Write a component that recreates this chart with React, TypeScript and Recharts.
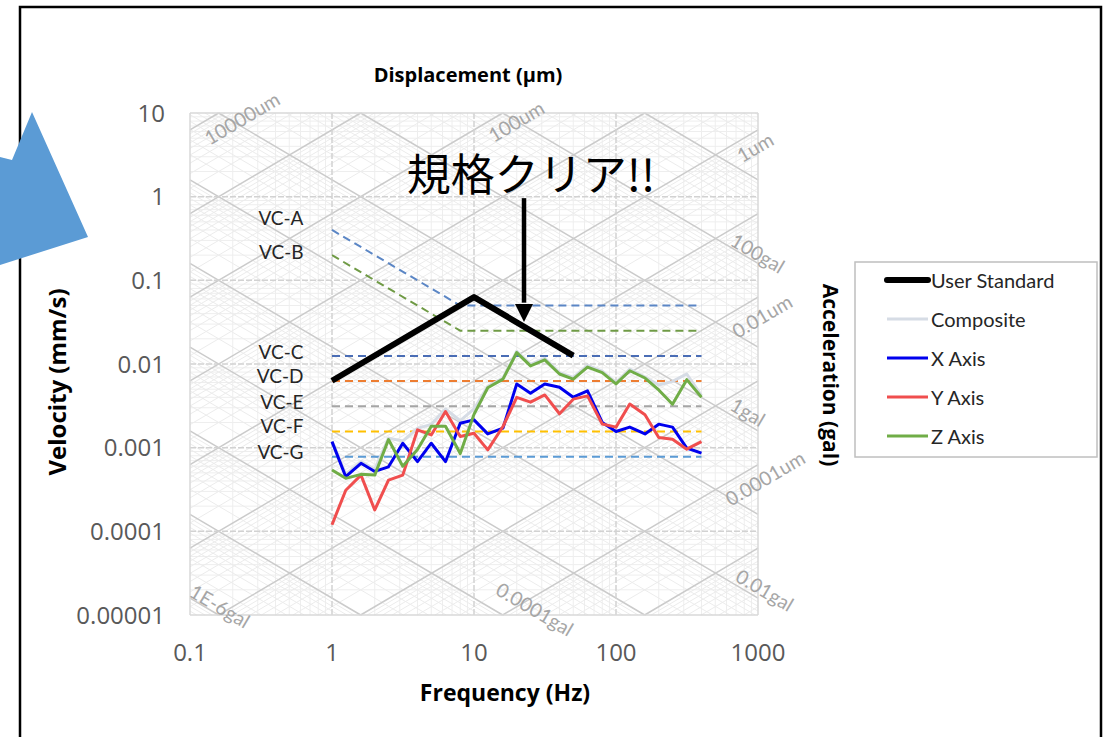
import { LineChart, Line, XAxis, YAxis, ReferenceLine, ReferenceDot } from 'recharts';

// 1/3 octave band centre frequencies (Hz)
const bandFreqs = [1, 1.25, 1.6, 2, 2.5, 3.15, 4, 5, 6.3, 8, 10, 12.5, 16, 20, 25, 31.5, 40, 50, 63, 80, 100, 125, 160, 200, 250, 315, 400];

// velocity per band, mm/s
const xAxisVel = [0.00118, 0.00045, 0.00065, 0.00052, 0.00059, 0.00113, 0.00068, 0.00113, 0.00068, 0.00196, 0.00215, 0.00146, 0.00171, 0.00578, 0.00448, 0.00578, 0.00528, 0.00401, 0.00478, 0.002, 0.00156, 0.00176, 0.00146, 0.00191, 0.00176, 0.00099, 0.00086];
const yAxisVel = [0.00012, 0.00031, 0.00047, 0.00018, 0.00041, 0.00047, 0.00163, 0.00142, 0.0027, 0.00136, 0.00149, 0.00094, 0.00179, 0.004, 0.0035, 0.00427, 0.00254, 0.0038, 0.00416, 0.00192, 0.00176, 0.00333, 0.00247, 0.00132, 0.00126, 0.00096, 0.00118];
const zAxisVel = [0.00054, 0.00043, 0.00048, 0.00047, 0.00125, 0.0006, 0.00095, 0.0018, 0.0018, 0.00085, 0.0025, 0.0052, 0.0066, 0.0137, 0.0095, 0.0112, 0.0076, 0.0066, 0.0092, 0.0079, 0.0058, 0.0083, 0.0068, 0.0049, 0.0033, 0.0065, 0.004];
const compositeVel = [0.0012, 0.00048, 0.00068, 0.00055, 0.0013, 0.0012, 0.0017, 0.0019, 0.0029, 0.0021, 0.0029, 0.0054, 0.0068, 0.0142, 0.0099, 0.0117, 0.0079, 0.0069, 0.0096, 0.0082, 0.006, 0.0087, 0.007, 0.0056, 0.0062, 0.0076, 0.0042];

// user standard polyline
const userStdFreqs = [1, 10, 50];
const userStdVel = [0.0063, 0.063, 0.0126];

// VC criteria
const vcNames = ['VC-A', 'VC-B', 'VC-C', 'VC-D', 'VC-E', 'VC-F', 'VC-G'];
const vcLevels = [0.05, 0.025, 0.0125, 0.00625, 0.003125, 0.0015625, 0.00078];
const vcLowFreqVel = [0.4, 0.2]; // VC-A / VC-B at 1 Hz, sloping to the knee
const vcKneeFreq = 8;
const vcStartFreq = 1;
const vcEndFreq = 400;
const vcColors = ['#5b86c5', '#6f9a45', '#4a6db5', '#ed7d31', '#a5a5a5', '#ffc000', '#5b9bd5'];
const vcLabelFreq = 0.63;
const vcLabelVel = [0.556, 0.224, 0.0143, 0.0072, 0.0036, 0.00182, 0.00091];

// axes
const freqTicks = [0.1, 1, 10, 100, 1000];
const velTicks = [0.00001, 0.0001, 0.001, 0.01, 0.1, 1, 10];

// tripartite labels
const diagLabelText = ['10000um', '100um', '1um', '0.01um', '0.0001um', '100gal', '1gal', '0.01gal', '0.0001gal', '1E-6gal'];
const diagLabelFreq = [0.232, 19.8, 953, 1067, 1120, 1000, 851, 1120, 26.9, 0.163];
const diagLabelVel = [8.7, 8.0, 3.92, 0.0375, 0.000434, 0.212, 0.00267, 0.0000199, 0.0000118, 0.0000128];

// annotation
const noteText = '規格クリア!!';
const noteFreq = 25.2;
const noteVel = 1.97;
const arrowFreq = 22.5;
const arrowTopVel = 0.96;
const arrowTipVel = 0.0318;

const legendNames = ['User Standard', 'Composite', 'X Axis', 'Y Axis', 'Z Axis'];
const legendColors = ['#000000', '#d6dce5', '#0000ee', '#f04e4e', '#70ad47'];
const legendWidths = [6, 3, 3, 3, 3];

const toPts = (fs: number[], vs: number[]) => fs.map((f, i) => ({ f, v: vs[i] }));

// log-space bounds of the plot
const LX0 = -1, LX1 = 3, LY0 = -5, LY1 = 1;
const mults = [1, 2, 3, 4, 5, 6, 7, 8, 9];

function dispSeg(dUm: number) {
  const c = Math.log10((2 * Math.PI * dUm) / 1000);
  const lo = Math.max(LX0, LY0 - c), hi = Math.min(LX1, LY1 - c);
  if (hi - lo < 1e-6) return null;
  return [{ x: 10 ** lo, y: 10 ** (lo + c) }, { x: 10 ** hi, y: 10 ** (hi + c) }];
}
function accSeg(aGal: number) {
  const k = Math.log10((10 * aGal) / (2 * Math.PI));
  const lo = Math.max(LX0, k - LY1), hi = Math.min(LX1, k - LY0);
  if (hi - lo < 1e-6) return null;
  return [{ x: 10 ** lo, y: 10 ** (k - lo) }, { x: 10 ** hi, y: 10 ** (k - hi) }];
}

const minorDiag: any[] = [];
const majorDiag: any[] = [];
for (let e = -8; e <= 5; e++) {
  mults.forEach(m => {
    const d = dispSeg(m * 10 ** e);
    const a = accSeg(m * 10 ** e);
    const list = m === 1 ? majorDiag : minorDiag;
    if (d) list.push(d);
    if (a) list.push(a);
  });
}
const minorV: number[] = [];
for (let e = -1; e <= 2; e++) mults.slice(1).forEach(m => minorV.push(m * 10 ** e));
const minorH: number[] = [];
for (let e = -5; e <= 0; e++) mults.slice(1).forEach(m => minorH.push(m * 10 ** e));

const FONT = "Lato, 'Open Sans', sans-serif";
const TITLE_FONT = "'Open Sans', Lato, sans-serif";

export default function App() {
  const vcData = vcLevels.map((lvl, i) =>
    i < vcLowFreqVel.length
      ? [{ f: vcStartFreq, v: vcLowFreqVel[i] }, { f: vcKneeFreq, v: lvl }, { f: vcEndFreq, v: lvl }]
      : [{ f: vcStartFreq, v: lvl }, { f: vcEndFreq, v: lvl }]
  );

  const series = [
    { name: 'User Standard', data: toPts(userStdFreqs, userStdVel) },
    { name: 'Composite', data: toPts(bandFreqs, compositeVel) },
    { name: 'X Axis', data: toPts(bandFreqs, xAxisVel) },
    { name: 'Y Axis', data: toPts(bandFreqs, yAxisVel) },
    { name: 'Z Axis', data: toPts(bandFreqs, zAxisVel) },
  ];
  const drawOrder = [1, 0, 2, 3, 4];

  return (
    <div style={{ position: 'fixed', left: 0, top: 0, width: 1107, height: 737, background: '#fff', overflow: 'hidden', fontFamily: FONT }}>
      <LineChart width={1107} height={737} margin={{ top: 113, right: 349, bottom: 92, left: 130 }}>
        <XAxis
          dataKey="f" type="number" scale="log" domain={[0.1, 1000]} ticks={freqTicks} allowDataOverflow interval={0}
          tickFormatter={(v) => String(v)} tickLine={false} tickSize={0} tickMargin={29} height={30}
          axisLine={{ stroke: '#d9d9d9', strokeWidth: 1.5 }}
          tick={{ fill: '#595959', fontSize: 24, fontFamily: 'Open Sans' }}
        />
        <YAxis
          type="number" scale="log" domain={[0.00001, 10]} ticks={velTicks} allowDataOverflow interval={0}
          tickFormatter={(v) => String(v)} tickLine={false} tickSize={0} tickMargin={25} width={60}
          axisLine={{ stroke: '#d9d9d9', strokeWidth: 1.5 }}
          tick={{ fill: '#595959', fontSize: 24, fontFamily: 'Open Sans' }}
        />

        {minorV.map(x => <ReferenceLine key={'mv' + x} x={x} stroke="#eeeeee" strokeWidth={1} ifOverflow="visible" />)}
        {minorH.map(y => <ReferenceLine key={'mh' + y} y={y} stroke="#eeeeee" strokeWidth={1} ifOverflow="visible" />)}
        {minorDiag.map((s, i) => <ReferenceLine key={'md' + i} segment={s} stroke="#ececec" strokeWidth={1} ifOverflow="visible" />)}
        {majorDiag.map((s, i) => <ReferenceLine key={'Md' + i} segment={s} stroke="#cbcbcb" strokeWidth={1.5} ifOverflow="visible" />)}
        {freqTicks.slice(1, -1).map(x => <ReferenceLine key={'Mv' + x} x={x} stroke="#d2d2d2" strokeWidth={1.5} strokeDasharray="6 2" ifOverflow="visible" />)}
        {velTicks.slice(1, -1).map(y => <ReferenceLine key={'Mh' + y} y={y} stroke="#d2d2d2" strokeWidth={1.5} strokeDasharray="6 2" ifOverflow="visible" />)}
        <ReferenceLine x={1000} stroke="#d9d9d9" strokeWidth={1.5} ifOverflow="visible" />
        <ReferenceLine y={10} stroke="#d9d9d9" strokeWidth={1.5} ifOverflow="visible" />

        {diagLabelText.map((t, i) => (
          <ReferenceDot
            key={'dl' + t} x={diagLabelFreq[i]} y={diagLabelVel[i]} r={0} fill="none" stroke="none" ifOverflow="visible"
            label={(p: any) => {
              const cx = p.viewBox.x + p.viewBox.width / 2, cy = p.viewBox.y + p.viewBox.height / 2;
              const ang = t.endsWith('gal') ? 30.5 : -30.5;
              return (
                <text x={cx} y={cy} transform={`rotate(${ang} ${cx} ${cy})`} textAnchor="middle" dominantBaseline="central"
                  fill="#a6a6a6" fontSize={19.5} fontFamily={FONT}>{t}</text>
              );
            }}
          />
        ))}

        {vcData.map((d, i) => (
          <Line key={vcNames[i]} data={d} dataKey="v" type="linear" stroke={vcColors[i]} strokeWidth={2} strokeDasharray="8 5"
            dot={false} activeDot={false} legendType="none" isAnimationActive={false} />
        ))}
        {vcNames.map((n, i) => (
          <ReferenceDot
            key={'vl' + n} x={vcLabelFreq} y={vcLabelVel[i]} r={0} fill="none" stroke="none" ifOverflow="visible"
            label={(p: any) => (
              <text x={p.viewBox.x} y={p.viewBox.y} textAnchor="end" dominantBaseline="central" fill="#262626" fontSize={19} fontFamily={FONT}>{n}</text>
            )}
          />
        ))}

        {drawOrder.map(i => (
          <Line key={series[i].name} name={series[i].name} data={series[i].data} dataKey="v" type="linear"
            stroke={legendColors[i]} strokeWidth={legendWidths[i]} strokeLinejoin="round"
            dot={false} activeDot={false} isAnimationActive={false} />
        ))}

        <ReferenceLine segment={[{ x: arrowFreq, y: arrowTopVel }, { x: arrowFreq, y: arrowTipVel * 1.7 }]} stroke="#000" strokeWidth={4.5} ifOverflow="visible" />
        <ReferenceDot x={arrowFreq} y={arrowTipVel} r={0} ifOverflow="visible"
          shape={(p: any) => <path d={`M${p.cx - 9},${p.cy - 18}L${p.cx + 9},${p.cy - 18}L${p.cx},${p.cy}Z`} fill="#000" />} />
        <ReferenceDot x={noteFreq} y={noteVel} r={0} fill="none" stroke="none" ifOverflow="visible"
          label={(p: any) => (
            <text x={p.viewBox.x} y={p.viewBox.y} textAnchor="middle" dominantBaseline="central" fill="#000" fontSize={44}
              fontFamily="'Noto Sans CJK JP', sans-serif">{noteText}</text>
          )} />
      </LineChart>

      <svg width={1107} height={737} style={{ position: 'absolute', left: 0, top: 0, pointerEvents: 'none' }}>
        <rect x={20} y={7} width={1081} height={740} fill="none" stroke="#000" strokeWidth={2.5} />
        <polygon points="32,112 88,237 0,265 0,157 12,160" fill="#5b9bd5" />

        <g fontFamily={TITLE_FONT} fontWeight="bold" fill="#000">
          <text x={468} y={74} textAnchor="middle" dominantBaseline="central" fontSize={20}>Displacement (μm)</text>
          <text x={505} y={692} textAnchor="middle" dominantBaseline="central" fontSize={23}>Frequency (Hz)</text>
          <text x={56} y={382} transform="rotate(-90 56 382)" textAnchor="middle" dominantBaseline="central" fontSize={24}>Velocity (mm/s)</text>
          <text x={831} y={375} transform="rotate(90 831 375)" textAnchor="middle" dominantBaseline="central" fontSize={21}>Acceleration (gal)</text>
        </g>

        <rect x={855} y={262} width={242} height={195} fill="#fff" stroke="#bfbfbf" strokeWidth={1.5} />
        {legendNames.map((n, i) => {
          const y = 280 + i * 39;
          return (
            <g key={n}>
              <line x1={887} x2={928} y1={y} y2={y} stroke={legendColors[i]} strokeWidth={legendWidths[i]} strokeLinecap={i === 0 ? 'round' : 'butt'} />
              <text x={931} y={y} dominantBaseline="central" fontSize={20} fill="#262626">{n}</text>
            </g>
          );
        })}
      </svg>
    </div>
  );
}
